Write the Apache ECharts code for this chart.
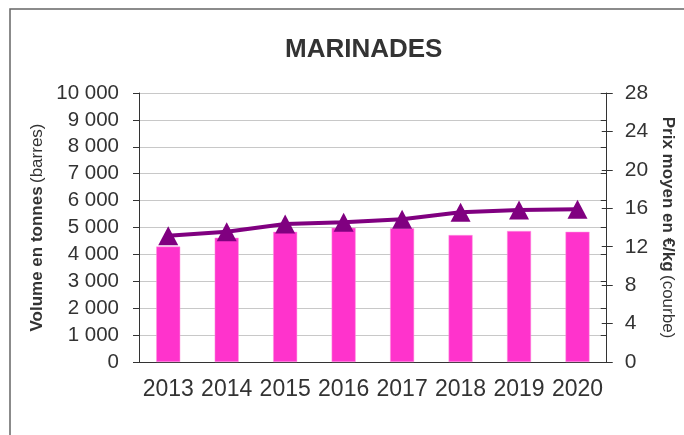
<!DOCTYPE html>
<html>
<head>
<meta charset="utf-8">
<script src="https://cdn.jsdelivr.net/npm/echarts@6/dist/echarts.min.js"></script>
<style>
  html, body { margin: 0; padding: 0; background: #fff; }
  #main { width: 684px; height: 435px; }
</style>
</head>
<body>
<div id="main"></div>
<script>
// données
let annees = ['2013', '2014', '2015', '2016', '2017', '2018', '2019', '2020'];
let volumes = [4290, 4620, 4840, 4990, 4970, 4720, 4870, 4840];
let prix = [13.15, 13.56, 14.36, 14.54, 14.85, 15.58, 15.82, 15.89];

let myChart = echarts.init(document.getElementById('main'));
let police = 'Liberation Sans, Arial, sans-serif';
let axeCouleur = '#333';

// format "10 000"
function milliers(v) {
    return String(v).replace(/\B(?=(\d{3})+(?!\d))/g, ' ');
}

let option = {
    backgroundColor: '#fff',
    animation: false,
    textStyle: { fontFamily: police },
    title: {
        text: 'MARINADES',
        left: 280,
        top: 32,
        textStyle: { fontSize: 26, fontWeight: 'bold', color: '#333', fontFamily: police }
    },
    // cadre
    graphic: [{
        type: 'rect',
        shape: { x: 10, y: 9, width: 700, height: 460 },
        style: { fill: 'none', stroke: '#666', lineWidth: 1.5 }
    }],
    grid: { left: 139, right: 74, top: 93, bottom: 73 },
    xAxis: {
        type: 'category',
        data: annees,
        axisLine: { lineStyle: { color: axeCouleur, width: 1 } },
        axisTick: { length: 7, lineStyle: { color: axeCouleur } },
        axisLabel: { fontSize: 23, color: '#333', margin: 16, interval: 0, hideOverlap: false }
    },
    yAxis: [
        {
            type: 'value', min: 0, max: 10000, interval: 1000,
            name: '{b|Volume en tonnes} {n|(barres)}',
            nameLocation: 'middle', nameGap: 92, nameRotate: 90,
            nameTextStyle: {
                rich: {
                    b: { fontSize: 17, fontWeight: 'bold', color: '#333', fontFamily: police },
                    n: { fontSize: 17, color: '#333', fontFamily: police }
                }
            },
            axisLine: { show: true, lineStyle: { color: axeCouleur } },
            axisTick: { show: true, length: 6, lineStyle: { color: axeCouleur } },
            axisLabel: { fontSize: 20.5, color: '#333', margin: 20, formatter: milliers },
            splitLine: { lineStyle: { color: '#c8c8c8', width: 1 } }
        },
        {
            type: 'value', min: 0, max: 28, interval: 4, position: 'right',
            name: '{b|Prix moyen en €/kg} {n|(courbe)}',
            nameLocation: 'middle', nameGap: 49, nameRotate: -90,
            nameTextStyle: {
                rich: {
                    b: { fontSize: 17, fontWeight: 'bold', color: '#333', fontFamily: police },
                    n: { fontSize: 17, color: '#333', fontFamily: police }
                }
            },
            axisLine: { show: true, lineStyle: { color: axeCouleur } },
            axisTick: { show: true, length: 6, lineStyle: { color: axeCouleur } },
            axisLabel: { fontSize: 21, color: '#333', margin: 18 },
            splitLine: { show: false }
        },
        // doublons pour les graduations qui traversent l'axe
        {
            type: 'value', min: 0, max: 10000, interval: 1000,
            axisLine: { show: false },
            axisTick: { show: true, inside: true, length: 6, lineStyle: { color: axeCouleur } },
            axisLabel: { show: false },
            splitLine: { show: false }
        },
        {
            type: 'value', min: 0, max: 28, interval: 4, position: 'right',
            axisLine: { show: false },
            axisTick: { show: true, inside: true, length: 5, lineStyle: { color: axeCouleur } },
            axisLabel: { show: false },
            splitLine: { show: false }
        }
    ],
    series: [
        {
            type: 'bar',
            data: volumes,
            barWidth: 24,
            yAxisIndex: 0,
            itemStyle: { color: '#ff33cc', borderColor: '#ff99e0', borderWidth: 0.5 }
        },
        {
            type: 'line',
            data: prix,
            yAxisIndex: 1,
            symbol: 'triangle',
            symbolSize: [20, 19],
            lineStyle: { color: '#800080', width: 4 },
            itemStyle: { color: '#800080' },
            z: 5
        }
    ]
};
myChart.setOption(option);
</script>
</body>
</html>
